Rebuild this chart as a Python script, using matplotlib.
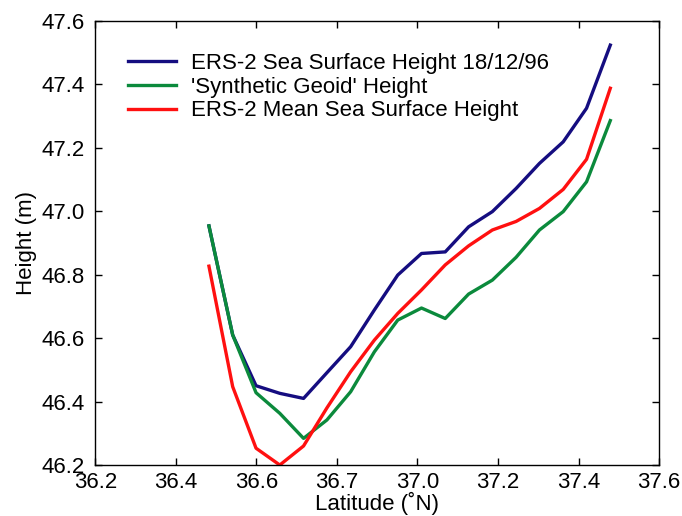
import matplotlib
matplotlib.use("Agg")
import matplotlib.pyplot as plt

plt.rcParams['font.family'] = ['Liberation Sans', 'DejaVu Sans']

latitude = [36.482, 36.541, 36.599, 36.658, 36.717, 36.775, 36.834, 36.893, 36.951,
            37.010, 37.069, 37.127, 37.186, 37.245, 37.303, 37.362, 37.420, 37.479]
ssh_18_12_96 = [46.954, 46.610, 46.450, 46.426, 46.410, 46.491, 46.573, 46.689, 46.799,
                46.867, 46.872, 46.951, 46.999, 47.072, 47.151, 47.219, 47.325, 47.524]
synthetic_geoid = [46.954, 46.610, 46.428, 46.363, 46.284, 46.342, 46.431, 46.557, 46.657,
                   46.695, 46.662, 46.739, 46.783, 46.855, 46.941, 46.999, 47.093, 47.286]
mean_ssh = [46.827, 46.447, 46.253, 46.200, 46.260, 46.380, 46.494, 46.594, 46.678,
            46.752, 46.831, 46.891, 46.941, 46.968, 47.009, 47.069, 47.164, 47.388]

series_labels = ["ERS-2 Sea Surface Height 18/12/96", "'Synthetic Geoid' Height",
                 "ERS-2 Mean Sea Surface Height"]
x_ticks = [36.2, 36.4, 36.6, 36.8, 37.0, 37.2, 37.4, 37.6]
x_tick_labels = ["36.2", "36.4", "36.6", "36.7", "37.0", "37.2", "37.4", "37.6"]
y_ticks = [46.2, 46.4, 46.6, 46.8, 47.0, 47.2, 47.4, 47.6]
y_tick_labels = ["46.2", "46.4", "46.6", "46.8", "47.0", "47.2", "47.4", "47.6"]

FS = 16

fig = plt.figure(figsize=(6.82, 5.16), dpi=100)
ax = fig.add_axes([0.1399, 0.0988, 0.8264, 0.8605])

ax.plot(latitude, ssh_18_12_96, color='#150d80', lw=2.4, label=series_labels[0])
ax.plot(latitude, synthetic_geoid, color='#0b8a3c', lw=2.4, label=series_labels[1])
ax.plot(latitude, mean_ssh, color='#ff1010', lw=2.4, label=series_labels[2])

ax.set_xlim(36.2, 37.6)
ax.set_ylim(46.2, 47.6)
ax.set_xticks(x_ticks)
ax.set_xticklabels(x_tick_labels)
ax.set_yticks(y_ticks)
ax.set_yticklabels(y_tick_labels)
ax.tick_params(direction='in', length=5, width=1, top=True, right=True,
               labelsize=FS)
ax.tick_params(axis='x', pad=5)
ax.tick_params(axis='y', pad=8)
for s in ax.spines.values():
    s.set_linewidth(1.0)

ax.set_xlabel("Latitude (˚N)", fontsize=FS, labelpad=-1)
ax.set_ylabel("Height (m)", fontsize=FS, labelpad=3)

leg = ax.legend(loc='upper left', bbox_to_anchor=(0.034, 0.958), frameon=False,
                fontsize=FS, handlelength=2.15, handletextpad=0.7,
                labelspacing=0.12, borderaxespad=0.2)

fig.savefig("out.png", dpi=100)
